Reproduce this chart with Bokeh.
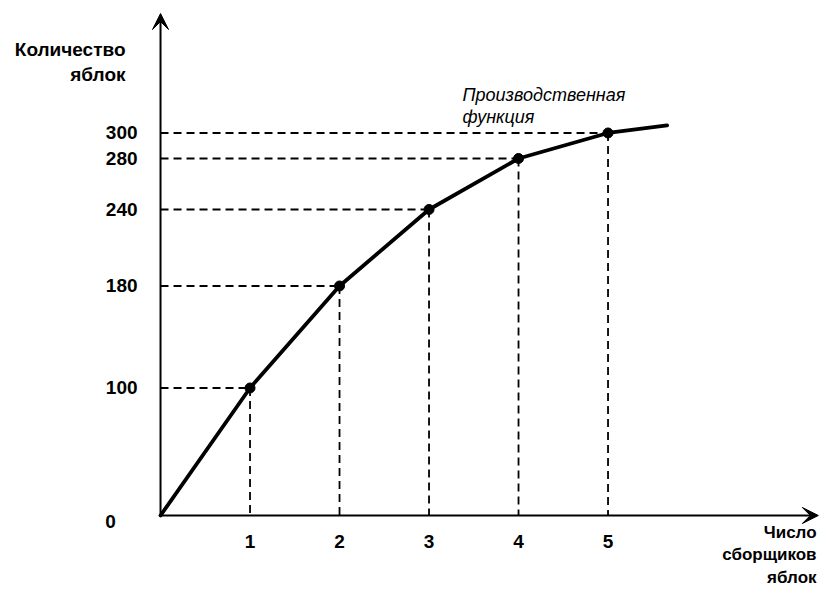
from bokeh.plotting import figure
from bokeh.models import FixedTicker, Arrow, VeeHead, ColumnDataSource, Range1d
from bokeh.core.properties import value
from bokeh.embed import file_html
from bokeh.resources import INLINE

# ---- data ----
workers = [0, 1, 2, 3, 4, 5]
apples = [0, 100, 180, 240, 280, 300]
curve_tail_x = [5.66]
curve_tail_y = [306]
x_ticks = [1, 2, 3, 4, 5]
y_ticks = [100, 180, 240, 280, 300]
y_title = "Количество\nяблок"
x_title = "Число\nсборщиков\nяблок"
curve_label = "Производственная\nфункция"

FONT = "Liberation Sans"

p = figure(width=820, height=589, output_backend="svg", toolbar_location=None,
           x_range=Range1d(-1.788, 7.374), y_range=Range1d(-58.04, 403.9),
           min_border=0)
p.outline_line_color = None
p.grid.visible = False
p.background_fill_color = "white"
p.border_fill_color = "white"

# axes placed at the origin
for ax in (p.xaxis[0], p.yaxis[0]):
    ax.fixed_location = 0
    ax.axis_line_color = None
    ax.major_tick_line_color = None
    ax.minor_tick_line_color = None
    ax.major_tick_in = 0
    ax.major_tick_out = 0
    ax.minor_tick_in = 0
    ax.minor_tick_out = 0
    ax.major_label_text_font = '"Liberation Sans", sans-serif'
    ax.major_label_text_font_size = "19px"
    ax.major_label_text_font_style = "bold"
    ax.major_label_text_color = "black"
p.xaxis[0].ticker = FixedTicker(ticks=x_ticks)
p.yaxis[0].ticker = FixedTicker(ticks=y_ticks)
p.xaxis[0].major_label_standoff = 20
p.yaxis[0].major_label_standoff = 23

# axis lines with arrows
p.add_layout(Arrow(end=VeeHead(size=16, fill_color="black", line_color="black", line_width=1),
                   x_start=0, y_start=0, x_end=0, y_end=393.7, line_width=2, line_color="black"))
p.add_layout(Arrow(end=VeeHead(size=16, fill_color="black", line_color="black", line_width=1),
                   x_start=0, y_start=0, x_end=7.35, y_end=0, line_width=2, line_color="black"))

# dashed guide lines
px = workers[1:]
py = apples[1:]
guides = ColumnDataSource(dict(x=px, y=py, zx=[0] * len(px), zy=[0] * len(py)))
p.segment(x0="zx", y0="y", x1="x", y1="y", source=guides, line_color="black",
          line_width=1.8, line_dash="8 5")
p.segment(x0="x", y0="y", x1="x", y1="zy", source=guides, line_color="black",
          line_width=1.8, line_dash="8 5")

# production function
p.line(workers + curve_tail_x, apples + curve_tail_y, line_color="black", line_width=3.8,
       line_join="round", line_cap="round")
p.scatter(px, py, size=10, fill_color="black", line_color="black")

# origin label
p.text(x=[0], y=[0], text=["0"], text_font=value(FONT), text_font_size="19px",
       text_font_style="bold", text_align="center", text_baseline="middle",
       x_offset=-50, y_offset=6, text_color="black")

# titles
p.text(x=[-0.391], y=[374], text=[y_title], text_font=value(FONT), text_font_size="19px",
       text_font_style="bold", text_align="right", text_baseline="top",
       text_line_height=1.2, text_color="black")
p.text(x=[7.33], y=[-5.5], text=[x_title], text_font=value(FONT), text_font_size="17px",
       text_font_style="bold", text_align="right", text_baseline="top",
       text_line_height=1.2, text_color="black")
p.text(x=[3.374], y=[338], text=[curve_label], text_font=value(FONT), text_font_size="18px",
       text_font_style="italic", text_align="left", text_baseline="top",
       text_line_height=1.1, text_color="black")

open("out.html", "w").write(file_html(p, INLINE))
